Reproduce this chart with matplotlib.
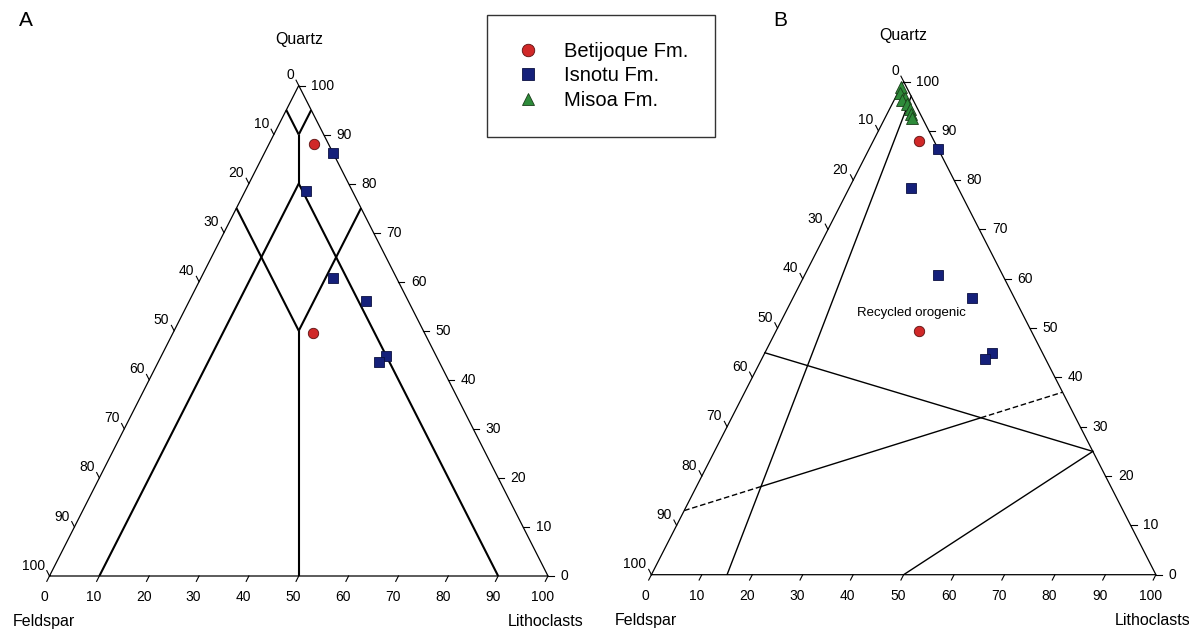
"""QFL ternary diagrams: Betijoque, Isnotu and Misoa formations"""
import matplotlib.pyplot as plt
from matplotlib.lines import Line2D

# sample compositions in percent: quartz, feldspar, lithoclasts
betijoque_q = [88.0, 49.5]
betijoque_f = [3.0, 22.3]
betijoque_l = [9.0, 28.2]

isnotu_q = [86.3, 78.5, 60.8, 56.1, 44.9, 43.7]
isnotu_f = [0.0, 9.3, 12.8, 8.4, 10.1, 12.0]
isnotu_l = [13.7, 12.2, 26.4, 35.5, 45.0, 44.3]

misoa_q = [98.9, 97.7, 96.6, 96.2, 95.5, 94.4, 93.5, 92.5]
misoa_f = [1.0, 1.9, 1.5, 2.2, 1.5, 1.6, 1.7, 2.0]
misoa_l = [0.1, 0.4, 1.9, 1.6, 3.0, 4.0, 4.8, 5.5]

ticks = list(range(0, 101, 10))

# classification field boundaries, endpoints as (Q, F, L)
fields_a = [
    [(95, 5, 0), (90, 5, 5)],
    [(95, 0, 5), (90, 5, 5)],
    [(90, 5, 5), (80, 10, 10)],
    [(80, 10, 10), (0, 90, 10)],
    [(80, 10, 10), (0, 10, 90)],
    [(75, 25, 0), (50, 25, 25)],
    [(75, 0, 25), (50, 25, 25)],
    [(50, 25, 25), (0, 50, 50)],
]
fields_b = [
    [(0, 85, 15), (97, 0, 3)],
    [(45, 55, 0), (25, 0, 75)],
    [(0, 50, 50), (25, 0, 75)],
]
dashed_b = [(13, 87, 0), (37, 0, 63)]

W, H = 1189, 635
fig = plt.figure(figsize=(W / 100, H / 100), dpi=100)
plt.rcParams['font.family'] = ['Liberation Sans', 'DejaVu Sans']


def tern(q, f, l):
    s = q + f + l
    return (l + q / 2) / s, q / s


def seg_xy(p0, p1):
    x0, y0 = tern(*p0)
    x1, y1 = tern(*p1)
    return [x0, x1], [y0, y1]


def intersect(a, b):
    (x1, x2), (y1, y2) = seg_xy(*a)
    (x3, x4), (y3, y4) = seg_xy(*b)
    d = (x1 - x2) * (y3 - y4) - (y1 - y2) * (x3 - x4)
    t = ((x1 - x3) * (y3 - y4) - (y1 - y3) * (x3 - x4)) / d
    return x1 + t * (x2 - x1), y1 + t * (y2 - y1)


def ternary_axes(left, base, width, height):
    ax = fig.add_axes([left / W, (H - base) / H, width / W, height / H])
    ax.set_xlim(0, 1); ax.set_ylim(0, 1); ax.axis('off')
    ax.plot([0, 1, 0.5, 0], [0, 0, 1, 0], color='black', lw=0.9,
            clip_on=False, solid_joinstyle='miter')

    def tick(x, y, dx, dy):
        # direction given in data units, tick length ~6 px
        px, py = dx * width, dy * height
        n = (px ** 2 + py ** 2) ** 0.5
        ax.plot([x, x + px / n * 6 / width], [y, y + py / n * 6 / height],
                color='black', lw=0.8, clip_on=False)

    for v in ticks:
        # bottom axis: lithoclasts
        x, y = tern(0, 100 - v, v)
        tick(x, y, -0.5, -1)
        ax.annotate(str(v), (x, y), xytext=(-4, -15), textcoords='offset points',
                    ha='center', va='center', fontsize=10)
        # left axis: feldspar
        x, y = tern(100 - v, v, 0)
        tick(x, y, -0.5, 1)
        ax.annotate(str(v), (x, y), xytext=(-3.5, 7.5), textcoords='offset points',
                    ha='right', va='center', fontsize=10)
        # right axis: quartz
        x, y = tern(v, 0, 100 - v)
        tick(x, y, 1, 0)
        ax.annotate(str(v), (x, y), xytext=(9, 0), textcoords='offset points',
                    ha='left', va='center', fontsize=10)

    ax.annotate('Quartz', (0.5, 1), xytext=(0, 33), textcoords='offset points',
                ha='center', va='center', fontsize=11.5)
    ax.annotate('Feldspar', (0, 0), xytext=(-4, -33), textcoords='offset points',
                ha='center', va='center', fontsize=11.5)
    ax.annotate('Lithoclasts', (1, 0), xytext=(-2, -33), textcoords='offset points',
                ha='center', va='center', fontsize=11.5)
    return ax


def samples(ax, with_misoa):
    if with_misoa:
        x, y = zip(*[tern(q, f, l) for q, f, l in zip(misoa_q, misoa_f, misoa_l)])
        ax.plot(x, y, '^', ms=8.5, mfc='#2e8b3a', mec='#1a3d1a', mew=0.6,
                ls='none', clip_on=False)
    x, y = zip(*[tern(q, f, l) for q, f, l in zip(isnotu_q, isnotu_f, isnotu_l)])
    ax.plot(x, y, 's', ms=6.5, mfc='#15207a', mec='#0b1040', mew=0.6,
            ls='none', clip_on=False)
    x, y = zip(*[tern(q, f, l) for q, f, l in zip(betijoque_q, betijoque_f, betijoque_l)])
    ax.plot(x, y, 'o', ms=7.5, mfc='#d02828', mec='#5a1010', mew=0.6,
            ls='none', clip_on=False)


# panel A
ax_a = ternary_axes(49.5, 576, 498.5, 490.5)
for p0, p1 in fields_a:
    ax_a.plot(*seg_xy(p0, p1), color='black', lw=1.5, solid_capstyle='butt')
samples(ax_a, False)

# panel B
ax_b = ternary_axes(651.4, 574.7, 504.5, 493.2)
for p0, p1 in fields_b:
    ax_b.plot(*seg_xy(p0, p1), color='black', lw=1.0)
xa, ya = tern(*dashed_b[0])
xb, yb = tern(*dashed_b[1])
i1 = intersect(dashed_b, fields_b[0])
i2 = intersect(dashed_b, fields_b[1])
ax_b.plot([xa, i1[0]], [ya, i1[1]], color='black', lw=1.0, ls=(0, (4, 2)))
ax_b.plot([i1[0], i2[0]], [i1[1], i2[1]], color='black', lw=1.0)
ax_b.plot([i2[0], xb], [i2[1], yb], color='black', lw=1.0, ls=(0, (4, 2)))
ax_b.text(*tern(53, 22, 25), 'Recycled orogenic', ha='center', va='center', fontsize=9.5)
samples(ax_b, True)

fig.text(26 / W, 1 - 21 / H, 'A', ha='center', va='center', fontsize=15)
fig.text(780 / W, 1 - 21 / H, 'B', ha='center', va='center', fontsize=15)

handles = [
    Line2D([], [], marker='o', ls='none', ms=9, mfc='#d02828', mec='#5a1010', mew=0.6),
    Line2D([], [], marker='s', ls='none', ms=8, mfc='#15207a', mec='#0b1040', mew=0.6),
    Line2D([], [], marker='^', ls='none', ms=9, mfc='#2e8b3a', mec='#1a3d1a', mew=0.6),
]
leg = fig.legend(handles, ['Betijoque Fm.', 'Isnotu Fm.', 'Misoa Fm.'],
                 loc='upper left', bbox_to_anchor=(487 / W, 1 - 15 / H),
                 borderaxespad=0, borderpad=1.35, labelspacing=0.26,
                 handlelength=1.4, handletextpad=1.05, fontsize=14.5,
                 fancybox=False, framealpha=1, edgecolor='#333333')
leg.get_frame().set_linewidth(1.0)

plt.savefig('out.png', dpi=100)
plt.close()
